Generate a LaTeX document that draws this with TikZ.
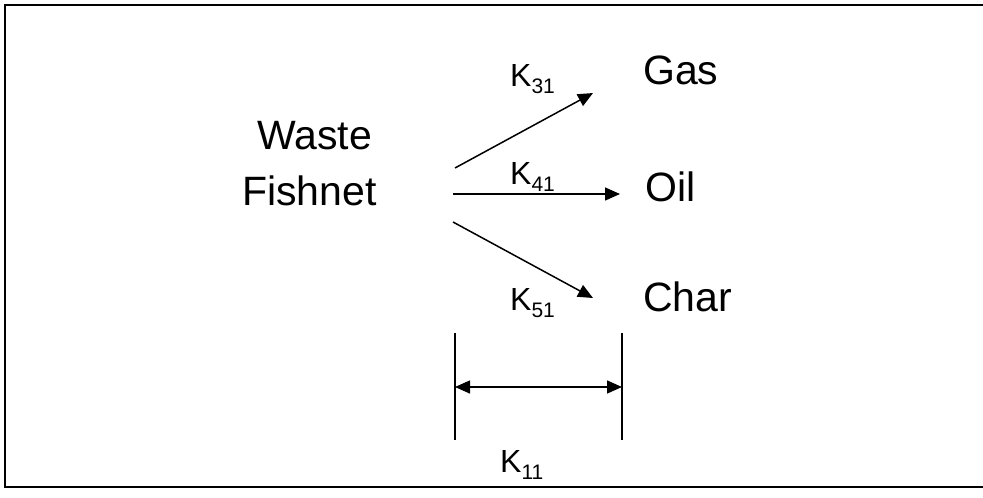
\documentclass[tikz,border=0pt]{standalone}
\usepackage{fontspec}
\setmainfont{Liberation Sans}
\usetikzlibrary{arrows.meta}
\newcommand\Ksub[1]{K\raisebox{-0.22em}{\fontsize{21}{21}\selectfont #1}}
\tikzset{
  big/.style={font=\fontsize{41}{50}\selectfont, inner sep=0pt, anchor=base west},
  klabel/.style={font=\fontsize{32}{36}\selectfont, inner sep=0pt, anchor=base west},
  arr/.style={line width=1.5pt, -{Triangle[length=15pt,width=13pt]}},
  darr/.style={line width=1.5pt, {Triangle[length=15pt,width=13pt]}-{Triangle[length=15pt,width=13pt]}},
  frame/.style={line width=2.2pt},
  bar/.style={line width=1.3pt}
}
\begin{document}
\begin{tikzpicture}[x=1pt,y=-1pt]
\useasboundingbox (0,0) rectangle (983,498);
% frame (right side open)
\coordinate (f1) at (983,5);
\coordinate (f2) at (5,5);
\coordinate (f3) at (5,487);
\coordinate (f4) at (983,487);
\draw[frame] (f1) -- (f2) -- (f3) -- (f4);
% texts
\node[big] (waste) at (257,149) {Waste};
\node[big] (fish) at (242,205) {Fishnet};
\node[big] (gas) at (643,84) {Gas};
\node[big] (oil) at (645,201) {Oil};
\node[big] (char) at (643,311) {Char};
\node[klabel] (k31) at (510,86) {\Ksub{31}};
\node[klabel] (k41) at (510,184) {\Ksub{41}};
\node[klabel] (k51) at (510,310) {\Ksub{51}};
\node[klabel] (k11) at (500,472) {\Ksub{11}};
% arrows
\coordinate (s1) at (455,168);
\coordinate (e1) at (593,93);
\coordinate (s2) at (453,194);
\coordinate (e2) at (620,194);
\coordinate (s3) at (453,222);
\coordinate (e3) at (593,298);
\draw[arr] (s1) -- (e1);
\draw[arr] (s2) -- (e2);
\draw[arr] (s3) -- (e3);
% bracket
\coordinate (b1t) at (455,333);
\coordinate (b1b) at (455,440);
\coordinate (b2t) at (622,333);
\coordinate (b2b) at (622,440);
\coordinate (d1) at (455,387);
\coordinate (d2) at (622,387);
\draw[bar] (b1t) -- (b1b);
\draw[bar] (b2t) -- (b2b);
\draw[darr] (d1) -- (d2);
\end{tikzpicture}
\end{document}
